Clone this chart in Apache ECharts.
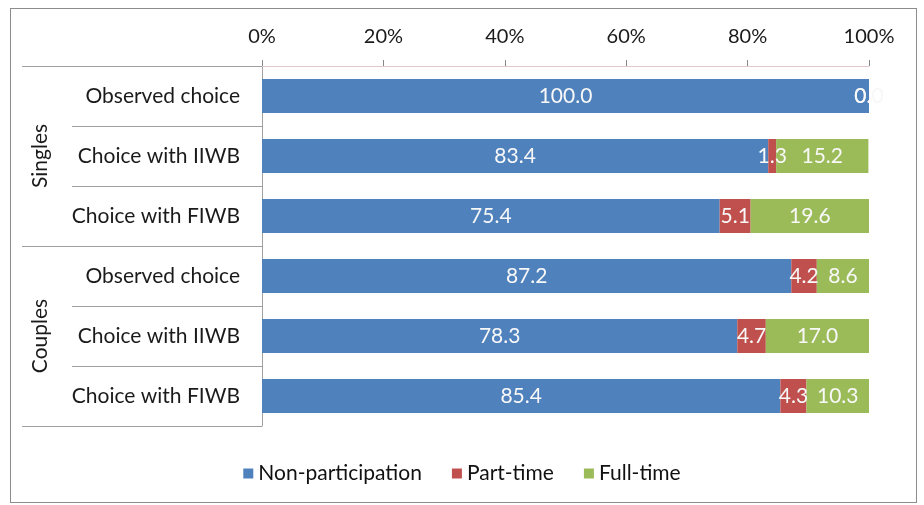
<!DOCTYPE html>
<html><head><meta charset="utf-8">
<script src="https://cdn.jsdelivr.net/npm/echarts@6/dist/echarts.min.js"></script>
<style>
html,body{margin:0;padding:0;background:#fff;}
#wrap{position:relative;width:924px;height:505px;}
#frame{position:absolute;left:10px;top:8px;width:907px;height:495px;border:1px solid #8c8c8c;box-sizing:border-box;pointer-events:none;}
#chart{position:absolute;left:0;top:0;width:924px;height:505px;}
</style></head>
<body><div id="wrap"><div id="chart"></div><div id="frame"></div></div>
<script>
const categories = ['Observed choice','Choice with IIWB','Choice with FIWB','Observed choice ','Choice with IIWB ','Choice with FIWB '];
const groups = ['Singles','Couples'];
const nonParticipation = [100.0, 83.4, 75.4, 87.2, 78.3, 85.4];
const partTime = [0.0, 1.3, 5.1, 4.2, 4.7, 4.3];
const fullTime = [0.0, 15.2, 19.6, 8.6, 17.0, 10.3];
const xTicks = [0, 20, 40, 60, 80, 100];

const FONT = 'Lato';
const chart = echarts.init(document.getElementById('chart'));
const mk = (name, data, color) => ({
  name, type: 'bar', stack: 'total', data, barWidth: 34,
  itemStyle: { color },
  label: { show: true, position: 'inside', color: '#f8f8f8', fontFamily: FONT, fontSize: 21,
           formatter: p => p.value.toFixed(1) }
});
chart.setOption({
  animation: false,
  textStyle: { fontFamily: FONT },
  grid: { left: 262, right: 55, top: 66, bottom: 79, containLabel: false },
  legend: {
    bottom: 16, left: 'center', icon: 'rect', itemWidth: 10, itemHeight: 10, itemGap: 30,
    textStyle: { fontFamily: FONT, fontSize: 21, color: '#111' },
    data: ['Non-participation','Part-time','Full-time']
  },
  xAxis: {
    type: 'value', position: 'top', min: xTicks[0], max: xTicks[xTicks.length-1], interval: 20,
    axisLine: { show: true, lineStyle: { color: '#e3c8cc' } },
    axisTick: { show: true, length: 6, lineStyle: { color: '#888' } },
    splitLine: { show: false },
    axisLabel: { formatter: '{value}%', fontFamily: FONT, fontSize: 20, color: '#1a1a1a', margin: 19 }
  },
  yAxis: [{
    type: 'category', inverse: true, data: categories,
    axisLine: { show: true, lineStyle: { color: '#a0a0a0' } },
    axisTick: { show: true, length: 190, lineStyle: { color: '#a0a0a0' } },
    axisLabel: { fontFamily: FONT, fontSize: 21, color: '#1a1a1a', margin: 22, formatter: v => v.trim() }
  }, {
    type: 'category', inverse: true, data: groups, position: 'left',
    axisLine: { show: false },
    axisTick: { show: true, length: 240, lineStyle: { color: '#a0a0a0' } },
    axisLabel: { fontFamily: FONT, fontSize: 21, color: '#1a1a1a', rotate: 90, margin: 222, align: 'center', verticalAlign: 'middle' }
  }],
  series: [
    mk('Non-participation', nonParticipation, '#4F81BD'),
    mk('Part-time', partTime, '#C0504D'),
    mk('Full-time', fullTime, '#9BBB59')
  ]
});
</script></body></html>
